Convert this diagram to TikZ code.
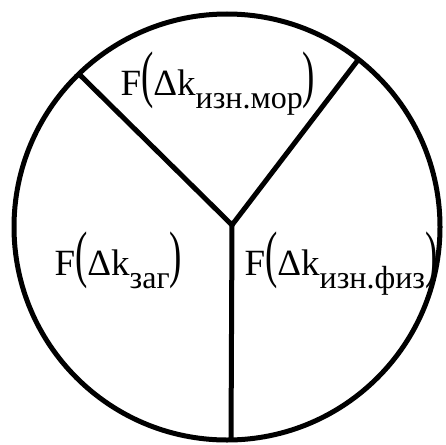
\documentclass[tikz,border=0pt]{standalone}
\usepackage{fontspec}
\setmainfont{Liberation Serif}
\usetikzlibrary{positioning}

% label F(Delta k_sub) with stretched parentheses
\newcommand{\bigpar}[1]{\scalebox{1}[1.7]{#1}}
\newcommand{\flab}[1]{F\bigpar{(}Δk\raisebox{-13pt}{\fontsize{32}{32}\selectfont #1}\bigpar{)}}

\begin{document}
\begin{tikzpicture}[x=1pt, y=-1pt, line width=5pt,
    lab/.style={anchor=base west, inner sep=0pt, font=\fontsize{37}{37}\selectfont}]
    \useasboundingbox (0,0) rectangle (446,444);

    \coordinate (ctr) at (227,227);
    \draw (ctr) circle (213);

    \coordinate (hub) at (232,225);
    \coordinate (tl) at (80,75);
    \coordinate (tr) at (358,60);
    \coordinate (bot) at (231,441);

    \draw (tl) -- (hub) -- (tr);
    \draw (hub) -- (bot);

    \node[lab] (mor) at (118,95) {\flab{изн.мор}};
    \node[lab] (zag) at (52,275) {\flab{заг}};
    \node[lab] (fiz) at (242,275) {\flab{изн.физ}};
  \end{tikzpicture}
\end{document}
